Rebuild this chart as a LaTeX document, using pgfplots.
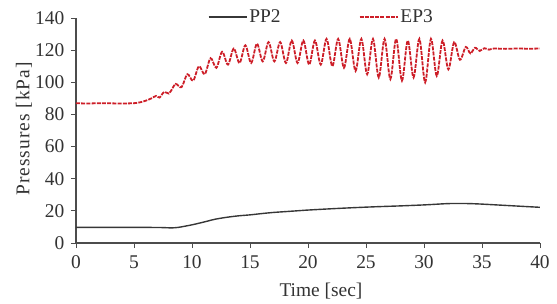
\documentclass[border=0pt]{standalone}
\usepackage{pgfplots}
\pgfplotsset{compat=1.18}
\usepackage{fontspec}
\setmainfont{Liberation Serif}
\definecolor{epred}{RGB}{205,30,40}
\definecolor{ppgray}{RGB}{55,55,55}
\newcommand{\chartfont}{\fontsize{19.5}{22}\selectfont}
\begin{document}
\chartfont
\begin{tikzpicture}
\begin{axis}[
  at={(0,0)}, anchor=south west,
  scale only axis, width=464bp, height=225bp,
  xmin=0, xmax=40, ymin=0, ymax=140,
  axis lines=left,
  axis line style={-, line width=1.2pt, black!70},
  xtick={0,5,...,40}, ytick={0,20,...,140},
  tick align=outside, major tick length=5bp,
  tick style={line width=1pt, black!70},
  /pgf/number format/assume math mode=true,
  ticklabel style={font=\chartfont, text=black!80},
  xticklabel style={yshift=-1bp},
  xlabel={Time [sec]}, ylabel={Pressures [kPa]},
  label style={font=\chartfont, text=black!80},
  xlabel style={at={(axis description cs:0.528,-0.213)}, anchor=center},
  ylabel style={at={(axis description cs:-0.112,0.507)}, anchor=center, font=\chartfont\addfontfeature{LetterSpace=5}},
  legend columns=2,
  legend style={draw=none, fill=none, at={(axis description cs:0.284,1.004)}, anchor=west,
    font=\chartfont, text=black!80, inner sep=0pt,
    /tikz/every even column/.append style={column sep=76bp}},
  legend cell align=left,
  legend image code/.code={\draw[#1] (0bp,0bp) -- (38bp,0bp);},
]
\addplot[ppgray, line width=1.4pt, smooth] coordinates {
(0,9.7)(2,9.7)(4,9.7)(6,9.7)(7.5,9.6)(8.2,9.4)(8.8,9.7)(9.5,10.6)(10,11.3)(11,13)(12,14.8)(13,16)(14,16.9)(15,17.5)(16,18.3)(17,19)(18,19.5)(19,20)(20,20.5)(22,21.3)(24,22)(26,22.6)(28,23.1)(30,23.7)(31,24.1)(32,24.5)(33,24.6)(34,24.5)(35,24.2)(36,23.8)(37,23.4)(38,23)(39,22.6)(40,22.2)
};
\addlegendentry{PP2}
\addplot[epred, line width=1.8pt, dash pattern=on 4bp off 1.2bp, smooth, tension=0.55] coordinates {
(0,87)(1,86.8)(2,87)(3,86.9)(4,86.8)(5,87)(5.5,87.5)(6,88.5)(6.5,90)(6.9,91.5)(7.2,90.5)(7.6,94)(8.0,93)(8.3,96)(8.6,99)(9.1,97)
(9.6,105)(10.1,101)(10.6,110)(11.1,105)(11.6,115)(12.1,109)(12.6,119)(13.1,111)(13.6,121)(14.1,112)(14.6,123)(15.1,112)
(15.6,124)(16.1,113)(16.6,125)(17.1,113)(17.6,125)(18.1,112)(18.6,126)(19.1,112)(19.6,126)(20.1,111)(20.6,126)(21.1,111)
(21.6,127)(22.1,110)(22.6,127)(23.1,109)(23.6,127)(24.1,107)(24.6,127)(25.1,105)(25.6,127)(26.1,103)(26.6,127)(27.1,102)
(27.6,127)(28.1,101)(28.6,126)(29.1,103)(29.6,127)(30.1,100)(30.6,127)(31.1,104)(31.6,126)(32.1,108)(32.6,125)(33.1,114)
(33.6,122)(34.0,118)(34.4,121.5)(34.8,119.5)(35.2,121.2)(35.6,120.3)(36,121)(37,120.8)(38,121)(39,120.9)(40,121)
};
\addlegendentry{EP3}
\end{axis}
\pgfresetboundingbox
\path[use as bounding box] (-76bp,-61bp) rectangle (481bp,243bp);
\end{tikzpicture}
\end{document}
